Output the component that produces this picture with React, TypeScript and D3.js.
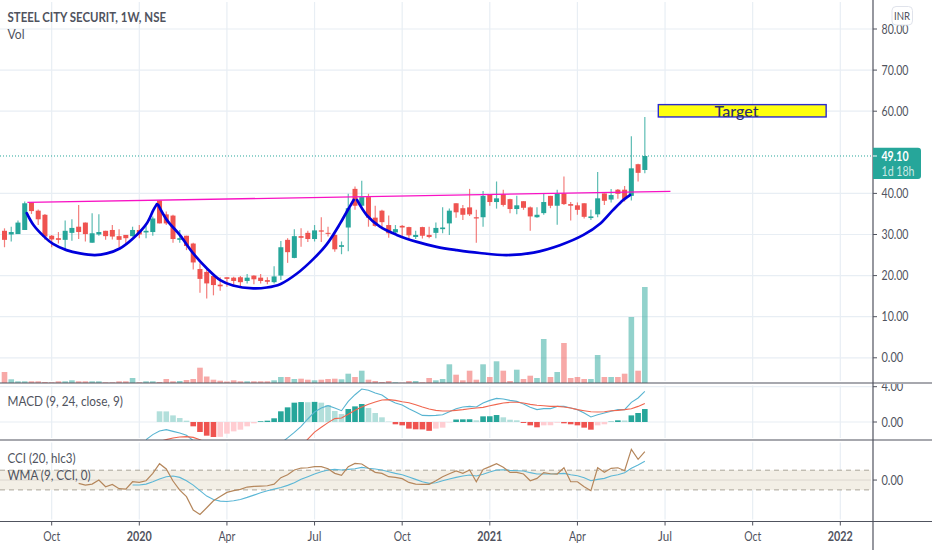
import * as d3 from "d3"

const opens = [30.9,30.0,30.1,31.1,37.8,35.8,34.8,29.7,29.1,28.7,30.4,31.9,32.9,28.0,30.0,30.9,31.1,29.6,29.9,29.6,31.1,30.5,30.6,38.3,34.9,34.6,28.7,29.7,27.8,21.6,20.9,19.9,17.8,19.6,19.5,19.6,18.7,20.0,19.5,18.9,18.4,20.0,28.7,24.3,29.6,30.4,28.9,31.0,30.4,29.9,27.0,31.7,41.1,37.0,39.1,34.1,35.8,32.3,30.5,32.1,31.8,29.4,31.8,29.9,30.4,31.3,32.7,37.6,36.4,36.6,34.2,34.2,39.8,37.9,39.8,38.6,36.2,38.1,36.6,34.2,35.2,39.4,37.0,40.0,37.4,37.1,37.6,34.0,34.9,40.0,38.5,40.9,40.9,39.4,47.1,45.7]
const highs = [31.5,31.9,33.4,38.0,37.8,36.1,35.0,29.9,30.6,33.4,33.7,37.2,32.9,35.2,34.9,30.9,32.3,31.3,29.9,31.9,32.3,32.1,34.4,38.3,35.6,34.8,31.1,29.7,28.0,23.0,21.7,19.9,19.6,19.6,19.7,19.9,20.4,20.1,20.4,19.6,22.3,28.4,29.1,31.3,31.5,30.9,32.3,34.2,31.9,30.7,28.3,39.9,41.7,43.1,39.9,37.0,36.0,34.6,32.3,32.3,31.9,30.9,31.9,31.9,32.9,36.6,36.3,37.6,37.2,41.1,36.0,40.6,39.8,42.9,40.9,38.7,39.4,38.1,36.8,36.6,39.9,39.4,40.9,44.1,37.9,37.8,37.6,36.0,45.2,40.0,41.1,41.1,41.8,53.9,47.2,58.6]
const lows = [26.9,28.3,30.1,31.1,35.0,32.3,28.7,26.9,27.8,26.2,28.5,28.9,28.3,28.0,29.7,28.7,28.8,26.9,27.8,29.5,29.1,29.1,29.7,32.7,32.3,28.0,28.0,26.2,21.5,15.8,14.4,15.2,16.3,17.3,17.7,17.4,18.1,17.9,18.1,17.9,18.1,18.9,23.1,24.2,27.0,28.2,28.3,28.2,29.5,25.8,25.2,25.9,36.0,36.8,31.9,31.9,31.3,29.2,30.3,29.1,28.9,28.9,29.0,29.1,29.1,30.3,29.9,34.1,33.5,34.5,28.0,31.9,37.0,36.3,36.8,35.2,34.9,36.0,30.9,34.1,34.8,36.4,32.4,37.2,33.4,34.8,33.9,33.5,34.2,37.2,37.8,38.7,38.0,38.3,42.9,44.9]
const closes = [28.7,30.6,32.9,37.6,35.7,33.7,29.5,28.8,28.7,30.9,31.6,30.6,30.1,30.3,30.6,29.6,29.5,28.7,29.1,31.1,30.0,30.9,33.9,32.7,32.7,28.9,29.1,27.2,23.2,19.2,18.1,17.7,17.4,19.2,18.7,18.4,19.5,19.1,18.7,18.5,19.8,26.9,25.7,29.6,29.2,28.9,31.0,30.7,30.2,26.4,27.4,36.4,37.0,39.1,34.1,32.1,33.0,30.3,31.3,31.7,29.8,29.9,29.7,29.4,31.6,31.7,35.8,35.4,34.8,34.9,33.9,39.4,37.9,38.8,37.2,36.2,37.1,36.5,34.4,34.8,37.9,37.0,40.0,37.4,37.0,36.0,34.3,34.4,38.8,38.2,39.6,39.9,38.6,46.1,45.0,49.1]
const volumes = [110,37,17,17,17,17,10,7,17,17,27,17,17,17,17,7,7,17,17,50,7,17,17,10,40,17,20,30,40,153,65,33,23,15,27,17,17,17,17,17,27,60,60,40,43,33,27,33,40,43,37,93,60,123,33,20,10,20,7,3,20,20,7,50,27,40,187,83,27,123,33,187,60,217,123,20,133,40,73,50,440,60,110,400,50,60,40,40,280,60,60,60,93,660,123,960]

// first value of each of these belongs to the bar given by the matching *Start
const histStart = 23
const macdHist = [1.21,1.2,0.75,0.45,0.15,-0.49,-1.13,-1.55,-1.7,-1.68,-1.32,-1.06,-0.87,-0.49,-0.15,0.08,0.15,0.42,1.21,1.66,2.19,2.26,2.24,2.28,2.19,1.92,1.25,0.9,1.47,1.77,2.04,1.58,1.02,0.53,0.04,-0.26,-0.38,-0.75,-0.83,-0.84,-1.0,-0.75,-0.64,-0.04,0.28,0.3,0.31,0.19,0.64,0.65,0.79,0.53,0.26,0.19,-0.11,-0.38,-0.6,-0.38,-0.37,-0.08,-0.15,-0.26,-0.38,-0.64,-0.87,-0.38,-0.26,0.04,0.19,0.17,0.75,1.02,1.47]
const macdStart = 21
const macdLine = [-2.0,-1.43,-1.02,-0.87,-1.06,-1.25,-1.5,-2.1,-3.1,-3.9,-4.5,-4.9,-5.1,-5.0,-4.8,-4.5,-4.1,-3.7,-3.3,-2.9,-2.4,-1.8,-1.17,-0.49,0.34,1.13,1.58,1.85,1.58,1.28,2.34,3.09,3.74,3.6,3.28,3.06,2.53,2.15,1.92,1.51,1.13,0.75,0.72,0.75,0.83,1.17,1.51,1.7,1.77,1.7,2.15,2.45,2.68,2.6,2.45,2.34,2.04,1.66,1.4,1.51,1.51,1.77,1.77,1.58,1.4,1.02,0.57,0.83,1.02,1.21,1.4,1.4,2.23,2.72,3.47]
const signalStart = 23
const signalLine = [-2.2,-2.0,-1.81,-1.7,-1.66,-1.74,-2.0,-2.4,-2.85,-3.2,-3.6,-3.9,-4.0,-4.0,-3.95,-3.85,-3.75,-3.65,-3.6,-3.5,-3.36,-2.75,-1.95,-1.15,-0.6,-0.07,0.38,0.45,0.87,1.32,1.7,2.0,2.26,2.49,2.53,2.45,2.3,2.19,1.96,1.7,1.47,1.32,1.25,1.25,1.32,1.4,1.51,1.58,1.66,1.85,2.0,2.15,2.23,2.23,2.15,2.0,1.89,1.85,1.77,1.77,1.7,1.58,1.4,1.28,1.17,1.13,1.17,1.28,1.32,1.4,1.51,1.77,2.11]
const cciStart = 11
const cciLine = [-34,-51,-41,0,-68,-44,-88,-92,-17,-24,-7,68,166,112,-10,-102,-169,-305,-349,-281,-210,-166,-125,-108,-95,-71,-64,-61,-58,-41,24,54,102,122,125,136,136,115,68,47,136,169,163,119,78,68,34,27,14,-24,-41,-44,-44,-7,34,64,92,68,102,-17,108,136,166,129,78,78,61,-7,17,75,64,61,125,-17,-17,-68,-108,125,78,119,125,95,312,210,288]
const wmaStart = 19
const wmaLine = [-51,-51,-41,-17,10,34,41,27,-7,-51,-108,-163,-197,-214,-217,-210,-197,-176,-153,-129,-108,-92,-75,-54,-27,7,34,61,85,102,108,102,108,115,129,119,112,102,85,68,54,31,7,-17,-34,-27,-7,10,27,41,51,41,58,81,102,105,98,95,92,75,61,61,61,64,68,54,44,24,-7,7,17,41,54,75,119,153,190]

const priceTicks = [80, 70, 60, 40, 30, 20, 10, 0]
const macdTicks = [4, 0]
const cciTicks = [0]
const timeTickBars = [7, 20, 33, 46, 59, 72, 85, 98, 111, 124]
const timeTickLabels = ["Oct", "2020", "Apr", "Jul", "Oct", "2021", "Apr", "Jul", "Oct", "2022"]

// drawings, as [bar, price]
const necklinePoints = [[3.4, 37.8], [98.8, 40.5]]
const cupLeft = [[3.3,35.2],[4.3,32.3],[5.8,29.6],[7.2,27.7],[9.2,26.2],[11.2,25.4],[13.4,25.0],[15.2,25.4],[17.1,26.6],[19.1,29.1],[21.1,32.7],[22.1,36.0],[22.6,37.4]]
const cupMiddle = [[22.8,37.2],[24.1,33.5],[26,29.9],[28,25.4],[30,21.8],[32,18.9],[33.9,17.6],[36.9,16.9],[38.9,17.1],[40.9,17.9],[43.4,20.5],[45.8,24.0],[47.8,27.6],[49.8,32.7],[50.8,35.6],[51.8,38.4]]
const cupRight = [[52.3,38.4],[53.7,34.8],[55.7,31.9],[58.2,29.9],[61.2,28.2],[64.1,27.0],[67.1,26.2],[70.5,25.5],[74.5,25],[78.5,25.6],[82.4,27.4],[85.9,29.9],[88.4,32.7],[90.3,36.0],[91.8,38.4],[92.8,39.6]]
const targetBox = { bars: [97, 121.9], prices: [61.6, 58.6] }
const targetLabelBar = 108.6

const lastPrice = 49.1

const width = 932
const height = 550
const axisX = 873
const font = "Lato, sans-serif"
const textColor = "#50535e"
const gridColor = "#e8eef4"
const up = "#26a69a"
const down = "#ef5350"

const x = d3.scaleLinear().domain([0, 124]).range([4.5, 840.3])
const y = d3.scaleLinear().domain([0, 80]).range([357.8, 29])
const volY = d3.scaleLinear().domain([0, 960]).range([383, 287])
const macdY = d3.scaleLinear().domain([0, 4]).range([422, 386.7])
const cciY = d3.scaleLinear().domain([-100, 100]).range([489.9, 470.2])

const priceLine = d3.line<number[]>().x((d) => x(d[0])).y((d) => y(d[1])).curve(d3.curveCatmullRom)
const seriesPath = (values: number[], start: number, scale: d3.ScaleLinear<number, number>) =>
  d3.line<number>().x((_, i) => x(start + i)).y((d) => scale(d))(values) || ""

const panels = [
  { id: "main", top: 0, bottom: 383 },
  { id: "macd", top: 383.5, bottom: 440 },
  { id: "cci", top: 440.5, bottom: 521.5 },
]

function histColor(v: number, prev: number | undefined) {
  const rising = prev !== undefined && v > prev
  if (v >= 0) return rising ? up : "#b2dfdb"
  return rising ? "#ffcdd2" : down
}

// the reference font runs narrow, so each label is squeezed to its measured width
const fitted = (w: number) => ({ textLength: w, lengthAdjust: "spacingAndGlyphs" as const })
const timeLabelWidth = (s: string) => (/^\d/.test(s) ? 25 : s === "Jul" ? 14 : 17)
const scaleLabelWidth = (s: string) => (s.length > 4 ? 27 : 21.7)

function ScaleTick({ at, value }: { at: number; value: number }) {
  const label = value.toFixed(2)
  return (
    <g>
      <line x1={axisX} x2={axisX + 4} y1={at} y2={at} stroke={textColor} />
      <text x={881.5} y={at + 4.5} {...fitted(scaleLabelWidth(label))}>{label}</text>
    </g>
  )
}

export default function App() {
  return (
    <svg width={width} height={height} style={{ position: "fixed", left: 0, top: 0, background: "#fff" }} fontFamily={font}>
      <defs>
        {panels.map((p) => (
          <clipPath id={`clip-${p.id}`} key={p.id}>
            <rect x={0} y={p.top} width={axisX} height={p.bottom - p.top} />
          </clipPath>
        ))}
        <clipPath id="clip-scale-macd">
          <rect x={axisX} y={384} width={width - axisX} height={56} />
        </clipPath>
      </defs>

      {/* grid */}
      {panels.map((p) =>
        timeTickBars.map((b) => (
          <line key={p.id + b} x1={x(b)} x2={x(b)} y1={p.top + 2} y2={p.bottom - 2} stroke={gridColor} strokeWidth={1.2} />
        )),
      )}
      {priceTicks.map((t) => (
        <line key={t} x1={0} x2={axisX} y1={y(t)} y2={y(t)} stroke={gridColor} strokeWidth={1.2} />
      ))}
      {macdTicks.map((t) => (
        <line key={t} x1={0} x2={axisX} y1={macdY(t)} y2={macdY(t)} stroke={gridColor} strokeWidth={1.2} />
      ))}

      {/* volume */}
      {volumes.map((v, i) => (
        <rect
          key={i}
          x={x(i) - 2.8}
          width={5.6}
          y={volY(v)}
          height={volY(0) - volY(v)}
          fill={closes[i] >= opens[i] ? up : down}
          fillOpacity={0.5}
        />
      ))}

      {/* last price */}
      <line x1={0} x2={axisX} y1={y(lastPrice)} y2={y(lastPrice)} stroke={up} strokeWidth={1} strokeDasharray="1 2" />

      {/* candles */}
      <g clipPath="url(#clip-main)">
        {opens.map((o, i) => {
          const c = closes[i]
          const color = c >= o ? up : down
          return (
            <g key={i}>
              <line x1={x(i)} x2={x(i)} y1={y(highs[i])} y2={y(lows[i])} stroke={color} strokeWidth={1.2} strokeOpacity={0.75} />
              <rect
                x={x(i) - 2.5}
                width={5}
                y={y(Math.max(o, c))}
                height={Math.max(1, Math.abs(y(o) - y(c)))}
                fill={color}
              />
            </g>
          )
        })}
      </g>

      {/* drawings */}
      <path d={priceLine(necklinePoints) || ""} stroke="#f812c4" strokeWidth={1.3} fill="none" />
      {[cupLeft, cupMiddle, cupRight].map((pts, i) => (
        <path key={i} d={priceLine(pts) || ""} stroke="#0000dc" strokeWidth={2.7} fill="none" strokeLinecap="round" />
      ))}
      <rect
        x={x(targetBox.bars[0])}
        y={y(targetBox.prices[0])}
        width={x(targetBox.bars[1]) - x(targetBox.bars[0])}
        height={y(targetBox.prices[1]) - y(targetBox.prices[0])}
        fill="#ffff0f"
        stroke="#2a2ad0"
        strokeWidth={1.4}
      />
      <text x={x(targetLabelBar)} y={117} textAnchor="middle" fontSize={16} fontWeight={500} fill="#2c2f6e" {...fitted(44)}>
        Target
      </text>

      {/* MACD */}
      <g clipPath="url(#clip-macd)">
        {macdHist.map((v, i) => (
          <rect
            key={i}
            x={x(histStart + i) - 2.8}
            width={5.6}
            y={Math.min(macdY(v), macdY(0))}
            height={Math.abs(macdY(v) - macdY(0))}
            fill={histColor(v, macdHist[i - 1])}
          />
        ))}
        <path d={seriesPath(macdLine, macdStart, macdY)} fill="none" stroke="#58b4d1" strokeWidth={1.1} />
        <path d={seriesPath(signalLine, signalStart, macdY)} fill="none" stroke="#f0664f" strokeWidth={1.1} />
      </g>

      {/* CCI */}
      <rect x={0} width={871} y={cciY(100)} height={cciY(-100) - cciY(100)} fill="#f3efe6" />
      <line x1={0} x2={871} y1={cciY(0)} y2={cciY(0)} stroke="#dcd8cf" strokeWidth={1} />
      {[100, -100].map((t) => (
        <line key={t} x1={0} x2={871} y1={cciY(t)} y2={cciY(t)} stroke="#aaa599" strokeWidth={1} strokeDasharray="5 4" />
      ))}
      <g clipPath="url(#clip-cci)">
        <path d={seriesPath(wmaLine, wmaStart, cciY)} fill="none" stroke="#5cb7d6" strokeWidth={1.1} />
        <path d={seriesPath(cciLine, cciStart, cciY)} fill="none" stroke="#b5875c" strokeWidth={1.2} />
      </g>

      {/* dividers */}
      {[383, 440, 521.5].map((d) => (
        <line key={d} x1={0} x2={width} y1={d} y2={d} stroke={textColor} strokeWidth={1.2} />
      ))}
      <line x1={axisX} x2={axisX} y1={0} y2={height} stroke={textColor} strokeWidth={1.2} />

      {/* price scale */}
      <g fontSize={13} fill={textColor}>
        {priceTicks.map((t) => (
          <ScaleTick key={t} at={y(t)} value={t} />
        ))}
        <g clipPath="url(#clip-scale-macd)">
          {macdTicks.map((t) => (
            <ScaleTick key={t} at={macdY(t)} value={t} />
          ))}
        </g>
        {cciTicks.map((t) => (
          <ScaleTick key={t} at={cciY(t)} value={t} />
        ))}
      </g>

      {/* last price tag */}
      <path d="M873 147.8 H918 a3 3 0 0 1 3 3 V176 a3 3 0 0 1 -3 3 H873 Z" fill={up} />
      <line x1={axisX} x2={axisX + 4} y1={y(lastPrice)} y2={y(lastPrice)} stroke="#fff" />
      <text x={881.5} y={160.5} fontSize={13} fontWeight={700} fill="#fff" {...fitted(27)}>{lastPrice.toFixed(2)}</text>
      <text x={881.5} y={175.5} fontSize={12.5} fill="#fff" fillOpacity={0.75} {...fitted(33)}>1d 18h</text>

      {/* currency badge */}
      <rect x={892} y={6.5} width={20.5} height={18.5} rx={4} fill="#fff" stroke="#e0e3eb" />
      <text x={894} y={20} fontSize={12} fill={textColor} {...fitted(16)}>INR</text>

      {/* time scale */}
      {timeTickBars.map((b, i) => (
        <g key={b}>
          <line x1={x(b)} x2={x(b)} y1={521.5} y2={525.5} stroke={textColor} />
          <text
            x={x(b)}
            y={541}
            textAnchor="middle"
            fontSize={13}
            fontWeight={/^\d/.test(timeTickLabels[i]) ? 700 : 400}
            fill={textColor}
            {...fitted(timeLabelWidth(timeTickLabels[i]))}
          >
            {timeTickLabels[i]}
          </text>
        </g>
      ))}

      {/* legends */}
      <g fontSize={13} fill={textColor}>
        <text x={7.5} y={21.5} fontWeight={700} {...fitted(158.5)}>STEEL CITY SECURIT, 1W, NSE</text>
        <text x={7.5} y={39} {...fitted(17)}>Vol</text>
        <text x={7.5} y={405.5} {...fitted(115.5)}>MACD (9, 24, close, 9)</text>
        <text x={7.5} y={463} {...fitted(68)}>CCI (20, hlc3)</text>
        <text x={7.5} y={480} {...fitted(83)}>WMA (9, CCI, 0)</text>
      </g>
    </svg>
  )
}
